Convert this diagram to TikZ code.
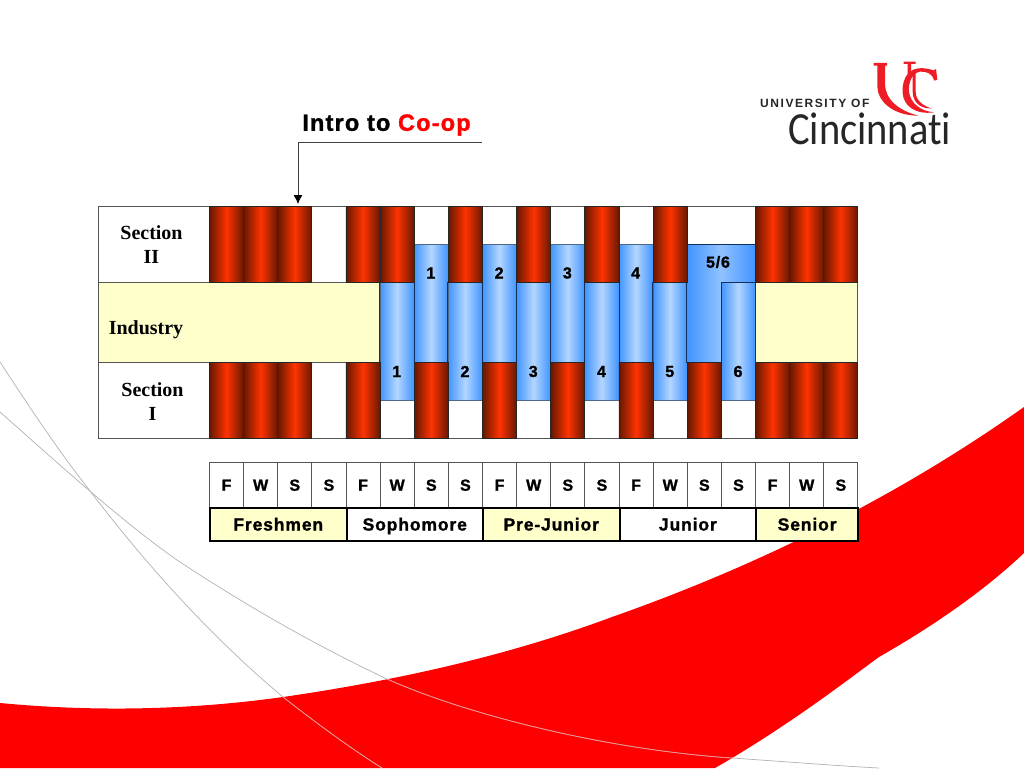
\documentclass[tikz,border=0pt]{standalone}
\usepackage{fontspec}
\usetikzlibrary{arrows.meta}
\setmainfont{Liberation Serif}
\newfontfamily\hvb[LetterSpace=5,FakeBold=1.3]{Liberation Sans Bold}
\newfontfamily\hvlogo[LetterSpace=13]{Liberation Sans Bold}
\newfontfamily\cinfont[Ligatures=NoCommon]{Carlito}
\definecolor{ucred}{HTML}{FF0000}
\definecolor{logored}{HTML}{EE1C25}
\definecolor{barhi}{HTML}{FF3300}
\definecolor{barlo}{HTML}{661800}
\definecolor{bluelo}{HTML}{4094FF}
\definecolor{bluehi}{HTML}{B4D6FF}
\definecolor{cream}{HTML}{FFFFCC}
\definecolor{framegray}{HTML}{555555}
\definecolor{blueedge}{HTML}{12305E}
\tikzset{
  x=1pt,y=-1pt,
  cellbox/.style={draw=framegray,line width=0.9pt,fill=white,inner sep=0pt,minimum width=34.13pt,anchor=north west},
  redbar/.style={draw=black!85,line width=0.8pt,left color=barlo,right color=barlo,middle color=barhi,inner sep=0pt,minimum width=34.13pt,minimum height=76pt,anchor=north west},
  bluebar/.style={draw=framegray!70!bluelo,line width=0.5pt,left color=bluelo,right color=bluelo,middle color=bluehi,inner sep=0pt,minimum width=34.13pt,minimum height=118pt,anchor=north west},
  blueside/.style={draw=blueedge,line width=0.9pt},
  creambox/.style={draw=framegray,line width=0.9pt,fill=cream,inner sep=0pt,anchor=north west},
  sectext/.style={font=\fontsize{20}{24}\selectfont\bfseries,inner sep=0pt,align=center},
  numtext/.style={font=\hvb\fontsize{16}{18}\selectfont,inner sep=0pt},
  termcell/.style={draw=framegray,line width=0.9pt,fill=white,inner sep=0pt,minimum width=34.13pt,minimum height=45pt,anchor=north west,text height=11.5pt,text depth=0pt,font=\hvb\fontsize{16}{18}\selectfont},
  yearcell/.style={draw=black,line width=2pt,inner sep=0pt,minimum height=33pt,anchor=north west,text height=12pt,text depth=0pt,font=\hvb\fontsize{17.5}{20}\selectfont},
  swooshline/.style={line width=0.7pt,color=black!30}
}
\def\swoosh{(0,703) .. controls (95,712) and (190,710) .. (283,697) .. controls (400,680) and (510,655) .. (612,617) .. controls (760,565) and (900,495) .. (1024,407) -- (1024,553) .. controls (985,590) and (935,625) .. (879,657) .. controls (850,678) and (790,725) .. (715,768) -- (0,768) -- cycle}
\def\lineA{(0,362) .. controls (30,408) and (58,450) .. (87,487) .. controls (150,570) and (215,640) .. (283,697) .. controls (315,722) and (350,748) .. (382,768)}
\def\lineB{(0,412) .. controls (60,465) and (120,520) .. (177,560) .. controls (245,605) and (315,645) .. (387,679) .. controls (470,716) and (610,750) .. (732,758) .. controls (790,762) and (840,766) .. (879,768)}
\begin{document}
\begin{tikzpicture}
\useasboundingbox (0,0) rectangle (1024,768);
\fill[white] (0,0) rectangle (1024,768);
% background
\fill[ucred] \swoosh;
\draw[swooshline] \lineA;
\draw[swooshline] \lineB;
\begin{scope}
  \clip \swoosh;
  \draw[line width=0.6pt,color=red!45!white] \lineA;
  \draw[line width=0.6pt,color=red!45!white] \lineB;
\end{scope}
% left labels and frame
\node[cellbox,minimum width=111pt,minimum height=76pt] (secII) at (98,206) {};
\node[cellbox,minimum width=111pt,minimum height=76pt] (secI) at (98,362) {};
\foreach \c in {0,...,18}{
  \pgfmathsetmacro{\xx}{209+\c*34.13}
  \ifnum\c=15\else
    \ifnum\c=14
      \node[cellbox,minimum height=76pt,minimum width=68.26pt] (ct\c) at (\xx,206) {};
    \else
      \node[cellbox,minimum height=76pt] (ct\c) at (\xx,206) {};
    \fi
  \fi
  \node[cellbox,minimum height=76pt] (cb\c) at (\xx,362) {};
}
% cream bands
\node[creambox,minimum width=281.5pt,minimum height=80pt] (indL) at (98,282) {};
\node[creambox,minimum width=102pt,minimum height=80pt] (indR) at (755.1,282) {};
% blue bars
\foreach \c in {6,8,10,12}{
  \pgfmathsetmacro{\xx}{209+\c*34.13}
  \node[bluebar] (bu\c) at (\xx,244) {};
  \draw[blueside] (bu\c.north west) -- (bu\c.south west);
  \draw[blueside] (bu\c.north east) -- (bu\c.south east);
}
\foreach \c in {5,7,9,11,13,15}{
  \pgfmathsetmacro{\xx}{209+\c*34.13}
  \node[bluebar] (bl\c) at (\xx,282) {};
  \draw[blueside] (bl\c.north west) -- (bl\c.south west);
  \draw[blueside] (bl\c.north east) -- (bl\c.south east);
}
% 5/6 block
\path[draw=blueedge,line width=0.8pt,left color=bluelo,right color=bluelo,middle color=bluehi!70!bluelo]
  (686.8,244) -- (755.1,244) -- (755.1,282) -- (721,282) -- (721,362) -- (686.8,362) -- cycle;
% red bars
\foreach \c in {0,1,2,4,5,7,9,11,13,16,17,18}{
  \pgfmathsetmacro{\xx}{209+\c*34.13}
  \node[redbar] (rt\c) at (\xx,206) {};
}
\foreach \c in {0,1,2,4,6,8,10,12,14,16,17,18}{
  \pgfmathsetmacro{\xx}{209+\c*34.13}
  \node[redbar] (rb\c) at (\xx,362) {};
}
% text labels
\node[sectext] (tII) at (151.5,245) {Section\\[0pt]II};
\node[sectext] (tI) at (152.5,402) {Section\\[0pt]I};
\node[sectext] (tInd) at (146,330) {Industry};
\foreach \c/\t in {6/1,8/2,10/3,12/4}{
  \pgfmathsetmacro{\xx}{209+(\c+0.5)*34.13}
  \node[numtext] (nu\c) at (\xx,273) {\t};
}
\foreach \c/\t in {5/1,7/2,9/3,11/4,13/5,15/6}{
  \pgfmathsetmacro{\xx}{209+(\c+0.5)*34.13}
  \node[numtext] (nl\c) at (\xx,371.5) {\t};
}
\node[numtext] (n56) at (718,262) {5/6};
% calendar
\foreach \c/\t in {0/F,1/W,2/S,3/S,4/F,5/W,6/S,7/S,8/F,9/W,10/S,11/S,12/F,13/W,14/S,15/S,16/F,17/W,18/S}{
  \pgfmathsetmacro{\xx}{209+\c*34.13}
  \node[termcell] (term\c) at (\xx,462) {\t};
}
\node[yearcell,fill=cream,minimum width=136.5pt] (y1) at (209,507) {Freshmen};
\node[yearcell,fill=white,minimum width=136.5pt] (y2) at (345.5,507) {Sophomore};
\node[yearcell,fill=cream,minimum width=136.5pt] (y3) at (482,507) {Pre-Junior};
\node[yearcell,fill=white,minimum width=136.5pt] (y4) at (618.6,507) {Junior};
\node[yearcell,fill=cream,minimum width=102pt] (y5) at (755.1,507) {Senior};
% intro arrow
\node[font=\hvb\fontsize{23.5}{26}\selectfont,inner sep=0pt] (intro) at (386.5,125) {Intro to \textcolor{red}{Co-op}};
\coordinate (lineend) at (482,142);
\coordinate (linecorner) at (298,142);
\coordinate (arrowtip) at (298,204);
\draw[line width=0.9pt,draw=black!75,-{Latex[length=9pt,width=9pt,black]}] (lineend) -- (linecorner) -- (arrowtip);
% logo
\node[font=\hvlogo\fontsize{12}{14}\selectfont,inner sep=0pt,anchor=west,text=black!85] (univ) at (760,103) {UNIVERSITY OF};
\node[font=\cinfont\fontsize{46}{52}\selectfont,inner sep=0pt,anchor=base west,text=black!85] (cin) at (788,144.5) {\scalebox{0.88}[1]{Cincinnati}};
\begin{scope}[shift={(865,55)},x=0.3333pt,y=-0.3333pt]
  \fill[logored] (26,24) -- (66,24) -- (66,32) -- (60,32) -- (60,88) .. controls (61,130) and (95,165) .. (160,182) .. controls (85,182) and (38,140) .. (37,95) -- (37,32) -- (26,32) -- cycle;
  \fill[logored] (116,20) -- (152,20) -- (152,27) -- (138,27) -- (138,72) -- (128,80) -- (128,27) -- (116,27) -- cycle;
  \fill[logored] (160,40) .. controls (122,44) and (110,85) .. (113,115) .. controls (116,152) and (150,180) .. (207,172) .. controls (165,168) and (137,145) .. (132,110) .. controls (130,80) and (142,54) .. (165,50) .. controls (185,48) and (203,57) .. (208,77) -- (217,74) -- (213,42) -- (205,46) .. controls (195,42) and (175,38) .. (160,40) -- cycle;
  \fill[logored] (143,60) -- (152,52) -- (152,110) .. controls (152,135) and (172,152) .. (199,160) .. controls (165,162) and (143,140) .. (143,110) -- cycle;
\end{scope}
\end{tikzpicture}
\end{document}
